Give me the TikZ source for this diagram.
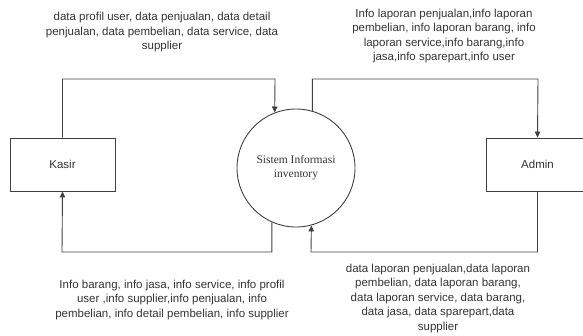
\documentclass[tikz,border=0pt]{standalone}
\usepackage{fontspec}
\setmainfont{Liberation Sans}
\newfontfamily\procfont{Liberation Serif}
\usetikzlibrary{arrows.meta}
\begin{document}
\begin{tikzpicture}[x=1bp,y=-1bp,
  line/.style={draw=black!75,line width=0.9bp},
  arr/.style={line,-{Triangle[length=6bp,width=5.5bp]}},
  entity/.style={line,minimum width=105bp,minimum height=53bp,inner sep=0pt,
    font=\fontsize{11.5bp}{14bp}\selectfont,text=black!80},
  process/.style={line,circle,minimum size=118bp,inner sep=0pt,align=center,
    font=\procfont\fontsize{11.5bp}{14bp}\selectfont,text=black!80},
  flowlabel/.style={align=center,inner sep=0pt,text=black!80,
    font=\fontsize{11.5bp}{14.5bp}\selectfont}]
\useasboundingbox (0,0) rectangle (583,335);
\begin{scope}
\clip (0,0) rectangle (583,335);

% external entities and the process
\node[entity] (kasir) at (62.5,164.5) {Kasir};
\node[entity,minimum width=103bp] (admin) at (537.5,164.5) {Admin};
\node[process] (sys) at (296,168) {Sistem Informasi\\inventory};

% bend points of the flows
\coordinate (k1) at (275,79);
\coordinate (a1) at (538,79);
\coordinate (a2) at (311,252);
\coordinate (k2) at (62,252);

% data flows
\draw[arr] (kasir.north) |- (k1) -- (sys.111);
\draw[arr] (sys.74) |- (a1) -- (admin.north);
\draw[arr] (admin.south) |- (a2) -- (sys.285);
\draw[arr] (sys.246) |- (k2) -- (kasir.south);

% flow labels
\node[flowlabel] (l1) at (162,32.5) {data profil user, data penjualan, data detail\\penjualan, data pembelian, data service, data\\supplier};
\node[flowlabel] (l2) at (444,36) {Info laporan penjualan,info laporan\\pembelian, info laporan barang, info\\laporan service,info barang,info\\jasa,info sparepart,info user};
\node[flowlabel] (l3) at (172,300) {Info barang, info jasa, info service, info profil\\user ,info supplier,info penjualan, info\\pembelian, info detail pembelian, info supplier};
\node[flowlabel] (l4) at (438,298.5) {data laporan penjualan,data laporan\\pembelian, data laporan barang,\\data laporan service, data barang,\\data jasa, data sparepart,data\\supplier};
\end{scope}
\end{tikzpicture}
\end{document}
